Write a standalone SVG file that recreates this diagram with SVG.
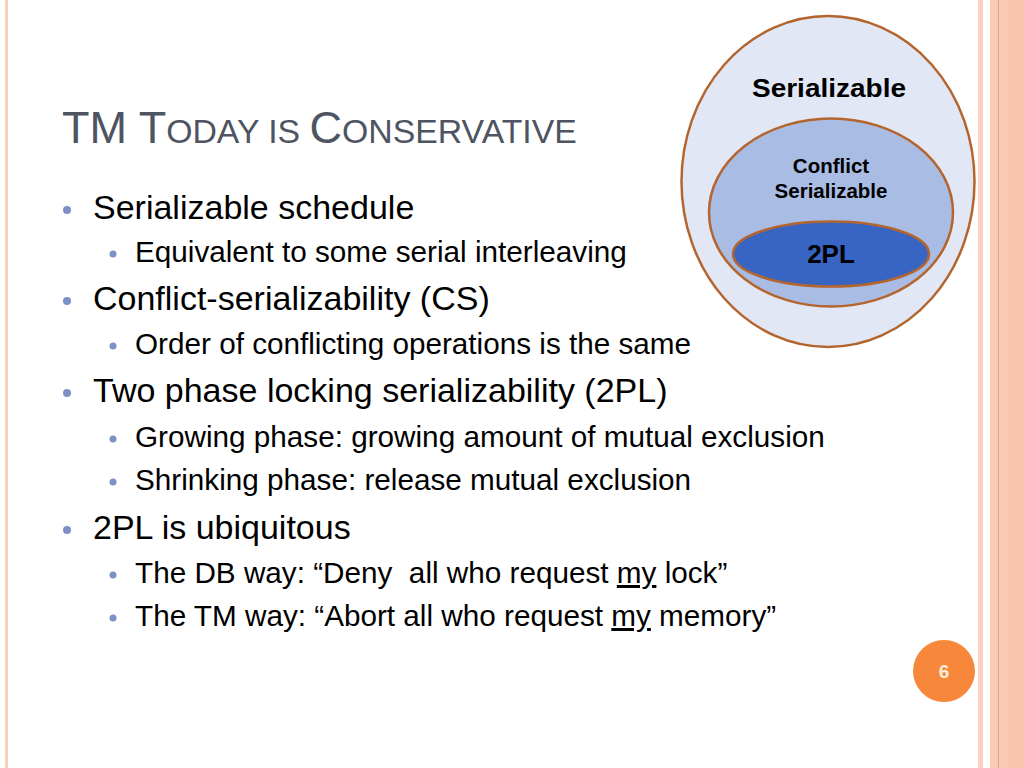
<svg xmlns="http://www.w3.org/2000/svg" width="1024" height="768" viewBox="0 0 1024 768">
<style>
.t{font-family:"Liberation Sans",Arial,sans-serif;fill:#000}
.l1{font-size:34px}
.l2{font-size:29.7px}
.b{fill:#7B90C4}
.ttl{font-family:"Liberation Sans",Arial,sans-serif;fill:#4E5461;font-size:45px}
.sc{font-size:33.8px}
.lbl{font-family:"Liberation Sans",Arial,sans-serif;font-weight:bold;fill:#000;text-anchor:middle}
.ell{stroke:#B4652E;stroke-width:2.5}
</style>
<rect x="0" y="0" width="1024" height="768" fill="#FFFFFF"/>
<g id="frame">
<rect x="5" y="0" width="3" height="768" fill="#FBCDBD"/>
<rect x="978" y="0" width="5" height="768" fill="#FBD0C1"/>
<rect x="990" y="0" width="34" height="768" fill="#FBCAB6"/>
<rect x="1008" y="0" width="16" height="768" fill="#FAC6B0"/>
<line x1="998.5" y1="0" x2="998.5" y2="768" stroke="#E6A282" stroke-width="1"/>
</g>
<g id="title">
<text class="ttl" x="62" y="143" xml:space="preserve">TM T<tspan class="sc">ODAY IS </tspan>C<tspan class="sc">ONSERVATIVE</tspan></text>
</g>
<g id="bullets">
<circle class="b" cx="67" cy="210" r="4"/>
<text class="t l1" x="93" y="219">Serializable schedule</text>
<circle class="b" cx="113" cy="254" r="3.5"/>
<text class="t l2" x="135" y="262">Equivalent to some serial interleaving</text>
<circle class="b" cx="67" cy="301" r="4"/>
<text class="t l1" x="93" y="310">Conflict-serializability (CS)</text>
<circle class="b" cx="113" cy="346" r="3.5"/>
<text class="t l2" x="135" y="354">Order of conflicting operations is the same</text>
<circle class="b" cx="67" cy="393" r="4"/>
<text class="t l1" x="93" y="402">Two phase locking serializability (2PL)</text>
<circle class="b" cx="113" cy="439" r="3.5"/>
<text class="t l2" x="135" y="447">Growing phase: growing amount of mutual exclusion</text>
<circle class="b" cx="113" cy="482" r="3.5"/>
<text class="t l2" x="135" y="490">Shrinking phase: release mutual exclusion</text>
<circle class="b" cx="67" cy="530" r="4"/>
<text class="t l1" x="93" y="539">2PL is ubiquitous</text>
<circle class="b" cx="113" cy="575" r="3.5"/>
<text class="t l2" x="135" y="583" xml:space="preserve">The DB way: “Deny  all who request <tspan text-decoration="underline">my</tspan> lock”</text>
<circle class="b" cx="113" cy="618" r="3.5"/>
<text class="t l2" x="135" y="626">The TM way: “Abort all who request <tspan text-decoration="underline">my</tspan> memory”</text>
</g>
<g id="node-serializable">
<ellipse class="ell" cx="828" cy="181.5" rx="146.5" ry="165.5" fill="#E1E7F4"/>
<text class="lbl" x="829" y="97" font-size="26" textLength="154" lengthAdjust="spacingAndGlyphs">Serializable</text>
</g>
<g id="node-conflict-serializable">
<ellipse class="ell" cx="831" cy="212.5" rx="122" ry="94" fill="#A9BCE4"/>
<text class="lbl" x="831" y="173" font-size="20.5">Conflict</text>
<text class="lbl" x="831" y="198" font-size="20.5">Serializable</text>
</g>
<g id="node-2pl">
<ellipse class="ell" cx="831" cy="254" rx="98" ry="32.5" fill="#3864C3"/>
<text class="lbl" x="831" y="263" font-size="26">2PL</text>
</g>
<g id="page-number">
<circle cx="944" cy="671" r="31" fill="#F7873B"/>
<text x="944" y="678" font-family="'Liberation Sans',Arial,sans-serif" font-size="19" font-weight="bold" fill="#FDEBDB" text-anchor="middle">6</text>
</g>
</svg>
